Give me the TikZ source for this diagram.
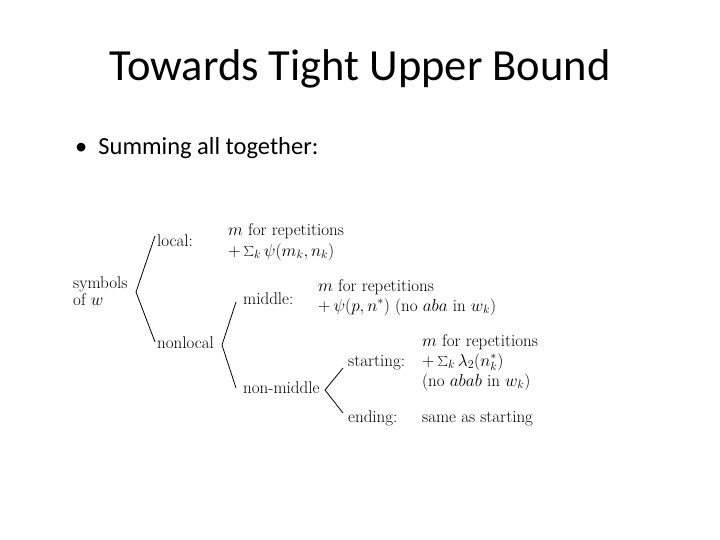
\documentclass[tikz,border=0pt]{standalone}
\usepackage{fontspec}
\setmainfont{Carlito}
\newfontfamily\lmr{Latin Modern Roman}
\begin{document}
\begin{tikzpicture}[x=1pt,y=-1pt,
  lbl/.style={anchor=base west,inner sep=0pt,font=\lmr\fontsize{17}{18}\selectfont},
  br/.style={line width=0.8pt}]
\useasboundingbox (0,0) rectangle (720,540);
\node[anchor=base,inner sep=0pt,font=\fontsize{44.5}{50}\selectfont] (title) at (360,81) {Towards Tight Upper Bound};
\node[anchor=base west,inner sep=0pt,font=\fontsize{24.5}{28}\selectfont] (bul) at (75,155) {\textbullet\hspace{0.45em}Summing all together:};
\node[lbl] (sym) at (73,288) {symbols};
\node[lbl] (ofw) at (73,305) {of $w$};
\node[lbl] (loc) at (157,247) {local:};
\node[lbl] (l1) at (228,236) {$m$ for repetitions};
\node[lbl] (l2) at (228,256) {$+\sum_k \psi(m_k,n_k)$};
\node[lbl] (nl) at (157,348) {nonlocal};
\node[lbl] (mid) at (243,304) {middle:};
\node[lbl] (m1) at (318,291) {$m$ for repetitions};
\node[lbl] (m2) at (318,311) {$+\,\psi(p,n^*)$ (no $aba$ in $w_k$)};
\node[lbl] (nm) at (243,393) {non-middle};
\node[lbl] (st) at (348,366) {starting:};
\node[lbl] (s1) at (422,346) {$m$ for repetitions};
\node[lbl] (s2) at (422,366) {$+\sum_k \lambda_2(n_k^*)$};
\node[lbl] (s3) at (422,386) {(no $abab$ in $w_k$)};
\node[lbl] (en) at (348,422) {ending:};
\node[lbl] (e1) at (422,422) {same as starting};
\coordinate (a1) at (136,292);
\draw[br] (155,236) -- (a1) -- (155,342);
\coordinate (a2) at (222,345);
\draw[br] (236,302) -- (a2) -- (236,388);
\coordinate (a3) at (325,390);
\draw[br] (343,368) -- (a3) -- (343,413);
\end{tikzpicture}
\end{document}
